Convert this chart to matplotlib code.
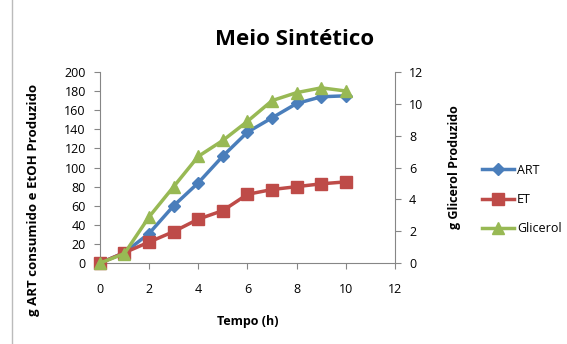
import numpy as np
import matplotlib.pyplot as plt

tempo = [0, 1, 2, 3, 4, 5, 6, 7, 8, 9, 10]
art = [0, 11, 31, 60, 84, 112, 137, 152, 167, 174, 175]
et = [0, 11, 22, 33, 46, 55, 72, 77, 80, 83, 85]
glicerol = [0, 0.6, 2.9, 4.8, 6.7, 7.7, 8.9, 10.2, 10.7, 11.0, 10.8]

plt.rcParams['font.family'] = ['Open Sans', 'DejaVu Sans']
gray = '#868686'

fig = plt.figure(figsize=(5.67, 3.44), dpi=100)
ax = fig.add_axes([0.176, 0.235, 0.521, 0.556])
ax2 = ax.twinx()

l1, = ax.plot(tempo, art, color='#4a7ebb', lw=2.5, marker='D', ms=6, label='ART', clip_on=False, zorder=3)
l2, = ax.plot(tempo, et, color='#be4b48', lw=2.5, marker='s', ms=8, label='ET', clip_on=False, zorder=3)
l3, = ax2.plot(tempo, glicerol, color='#98b954', lw=2.5, marker='^', ms=8, label='Glicerol', clip_on=False, zorder=3)

ax.set_xlim(0, 12)
ax.set_ylim(0, 200)
ax2.set_ylim(0, 12)
ax.set_xticks(range(0, 13, 2))
ax.set_yticks(range(0, 201, 20))
ax2.set_yticks(range(0, 13, 2))

for a in (ax, ax2):
    for s in a.spines.values():
        s.set_visible(False)
    a.tick_params(colors=gray, labelcolor='black', labelsize=9, length=4, width=0.8)
ax.spines['left'].set_visible(True)
ax.spines['bottom'].set_visible(True)
ax2.spines['right'].set_visible(True)
for s in (ax.spines['left'], ax.spines['bottom'], ax2.spines['right']):
    s.set_color(gray)
ax.tick_params(axis='x', pad=10)
ax.tick_params(axis='y', pad=6)
ax2.tick_params(axis='y', pad=6)

ax.set_xlabel('Tempo (h)', fontsize=9, fontweight='bold', labelpad=14)
ax.set_ylabel('g ART consumido e EtOH Produzido', fontsize=9.5, fontweight='bold')
ax.yaxis.set_label_coords(-0.203, 0.33)
ax2.set_ylabel('g Glicerol Produzido', fontsize=9, fontweight='bold', rotation=90)
ax2.yaxis.set_label_coords(1.18, 0.50)

fig.suptitle('Meio Sintético', x=0.52, y=0.915, fontsize=16, fontweight='bold')

fig.legend([l1, l2, l3], ['ART', 'ET', 'Glicerol'], loc='center left',
           bbox_to_anchor=(0.83, 0.42), frameon=False, fontsize=9,
           handlelength=2.6, labelspacing=1.3, handletextpad=0.2)

fig.add_artist(plt.Line2D([0.021, 0.021], [0, 1], color='#bbbbbb', lw=1))

fig.savefig('out.png', dpi=100)
